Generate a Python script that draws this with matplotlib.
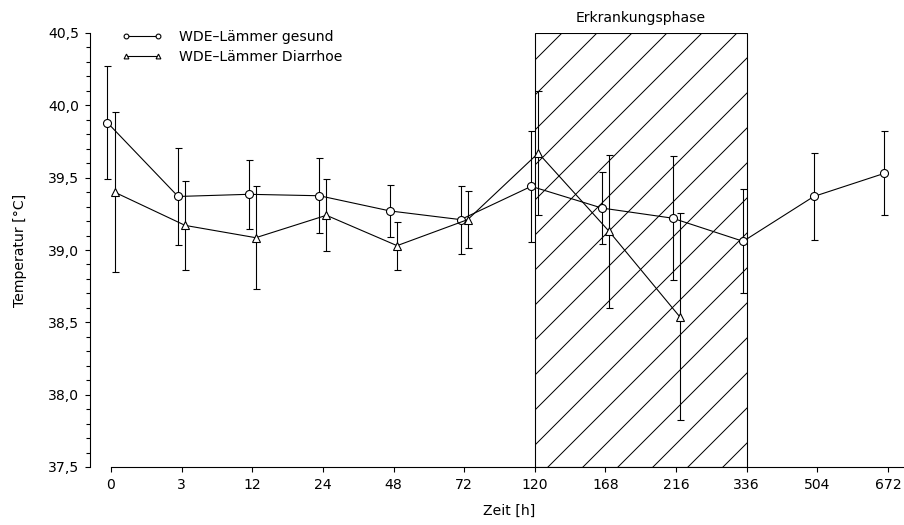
import matplotlib

matplotlib.use("Agg")

import matplotlib.pyplot as plt
import numpy as np
from matplotlib.ticker import FuncFormatter, MultipleLocator


# time points (categorical axis)
time_labels = ["0", "3", "12", "24", "48", "72", "120", "168", "216", "336", "504", "672"]

# WDE-Lämmer gesund
healthy_mean = [39.88, 39.37, 39.385, 39.375, 39.27, 39.21, 39.44, 39.29, 39.22, 39.06, 39.37, 39.53]
healthy_sd = [0.39, 0.335, 0.24, 0.26, 0.18, 0.235, 0.385, 0.25, 0.43, 0.36, 0.30, 0.29]

# WDE-Lämmer Diarrhoe (only up to 216 h)
diarrhoea_mean = [39.40, 39.17, 39.085, 39.24, 39.03, 39.21, 39.67, 39.13, 38.54]
diarrhoea_sd = [0.555, 0.305, 0.355, 0.25, 0.165, 0.195, 0.43, 0.53, 0.715]

# disease phase spans from 120 h to 336 h
phase_start = "120"
phase_end = "336"

DPI = 210
PX = 72 / DPI  # one pixel in points
FONT = 14 * PX


def comma(v, pos):
    return f"{v:.1f}".replace(".", ",")


def make_chart() -> None:
    plt.rcParams["font.family"] = "DejaVu Sans"
    plt.rcParams["hatch.linewidth"] = 1.0 * PX
    plt.rcParams["hatch.color"] = "black"

    fig = plt.figure(figsize=(904 / DPI, 525 / DPI), dpi=DPI)
    fig.patch.set_facecolor("white")
    ax = fig.add_axes([90 / 904, 58 / 525, 814 / 904, 434 / 525])

    idx = np.arange(len(time_labels))
    x_h = idx - 0.05
    x_d = idx[: len(diarrhoea_mean)] + 0.05

    i0 = time_labels.index(phase_start)
    i1 = time_labels.index(phase_end)
    ax.axvspan(i0, i1, ymin=0, ymax=1, facecolor="none", edgecolor="black",
               hatch="//", linewidth=1.1 * PX, zorder=1)
    ax.text((i0 + i1) / 2, 1.035, "Erkrankungsphase", transform=ax.get_xaxis_transform(),
            ha="center", va="center", fontsize=FONT)

    lw = 1.1 * PX
    common = dict(color="black", ecolor="black", elinewidth=lw, linewidth=lw,
                  capsize=3.5 * PX, capthick=lw, markersize=8 * PX,
                  markerfacecolor="white", markeredgecolor="black", markeredgewidth=lw,
                  zorder=3)
    eb_h = ax.errorbar(x_h, healthy_mean, yerr=healthy_sd, marker="o", **common)
    eb_d = ax.errorbar(x_d, diarrhoea_mean, yerr=diarrhoea_sd, marker="^", **common)

    ax.set_xlim(-0.297, 11.227)
    ax.set_ylim(37.5, 40.5)
    ax.set_xticks(idx)
    ax.set_xticklabels(time_labels)
    ax.yaxis.set_major_locator(MultipleLocator(0.5))
    ax.yaxis.set_minor_locator(MultipleLocator(0.1))
    ax.yaxis.set_major_formatter(FuncFormatter(comma))

    for side in ["top", "right"]:
        ax.spines[side].set_visible(False)
    for side in ["left", "bottom"]:
        ax.spines[side].set_linewidth(1.1 * PX)
    ax.spines["bottom"].set_bounds(0, 11.227)

    ax.tick_params(axis="x", direction="out", length=5 * PX, width=lw, pad=6 * PX,
                   labelsize=FONT)
    ax.tick_params(axis="y", which="major", direction="out", length=5 * PX, width=lw,
                   pad=6 * PX, labelsize=FONT)
    ax.tick_params(axis="y", which="minor", direction="out", length=4.5 * PX, width=lw)

    ax.set_xlabel("Zeit [h]", fontsize=FONT)
    ax.xaxis.set_label_coords(0.515, -0.086)
    ax.set_ylabel("Temperatur [°C]", fontsize=FONT)
    ax.yaxis.set_label_coords(-0.078, 0.5)

    ax.legend([eb_h.lines[0], eb_d.lines[0]],
              ["WDE–Lämmer gesund", "WDE–Lämmer Diarrhoe"],
              loc="upper left", bbox_to_anchor=(122 / 904, 1 - 30 / 525),
              bbox_transform=fig.transFigure, frameon=False, numpoints=2,
              markerscale=0.6, handlelength=2.9, handletextpad=1.15,
              labelspacing=0.42, borderpad=0, borderaxespad=0, fontsize=FONT)

    fig.savefig("out.png", dpi=DPI, facecolor="white")
    plt.close(fig)


def main() -> None:
    make_chart()


if __name__ == "__main__":
    main()
